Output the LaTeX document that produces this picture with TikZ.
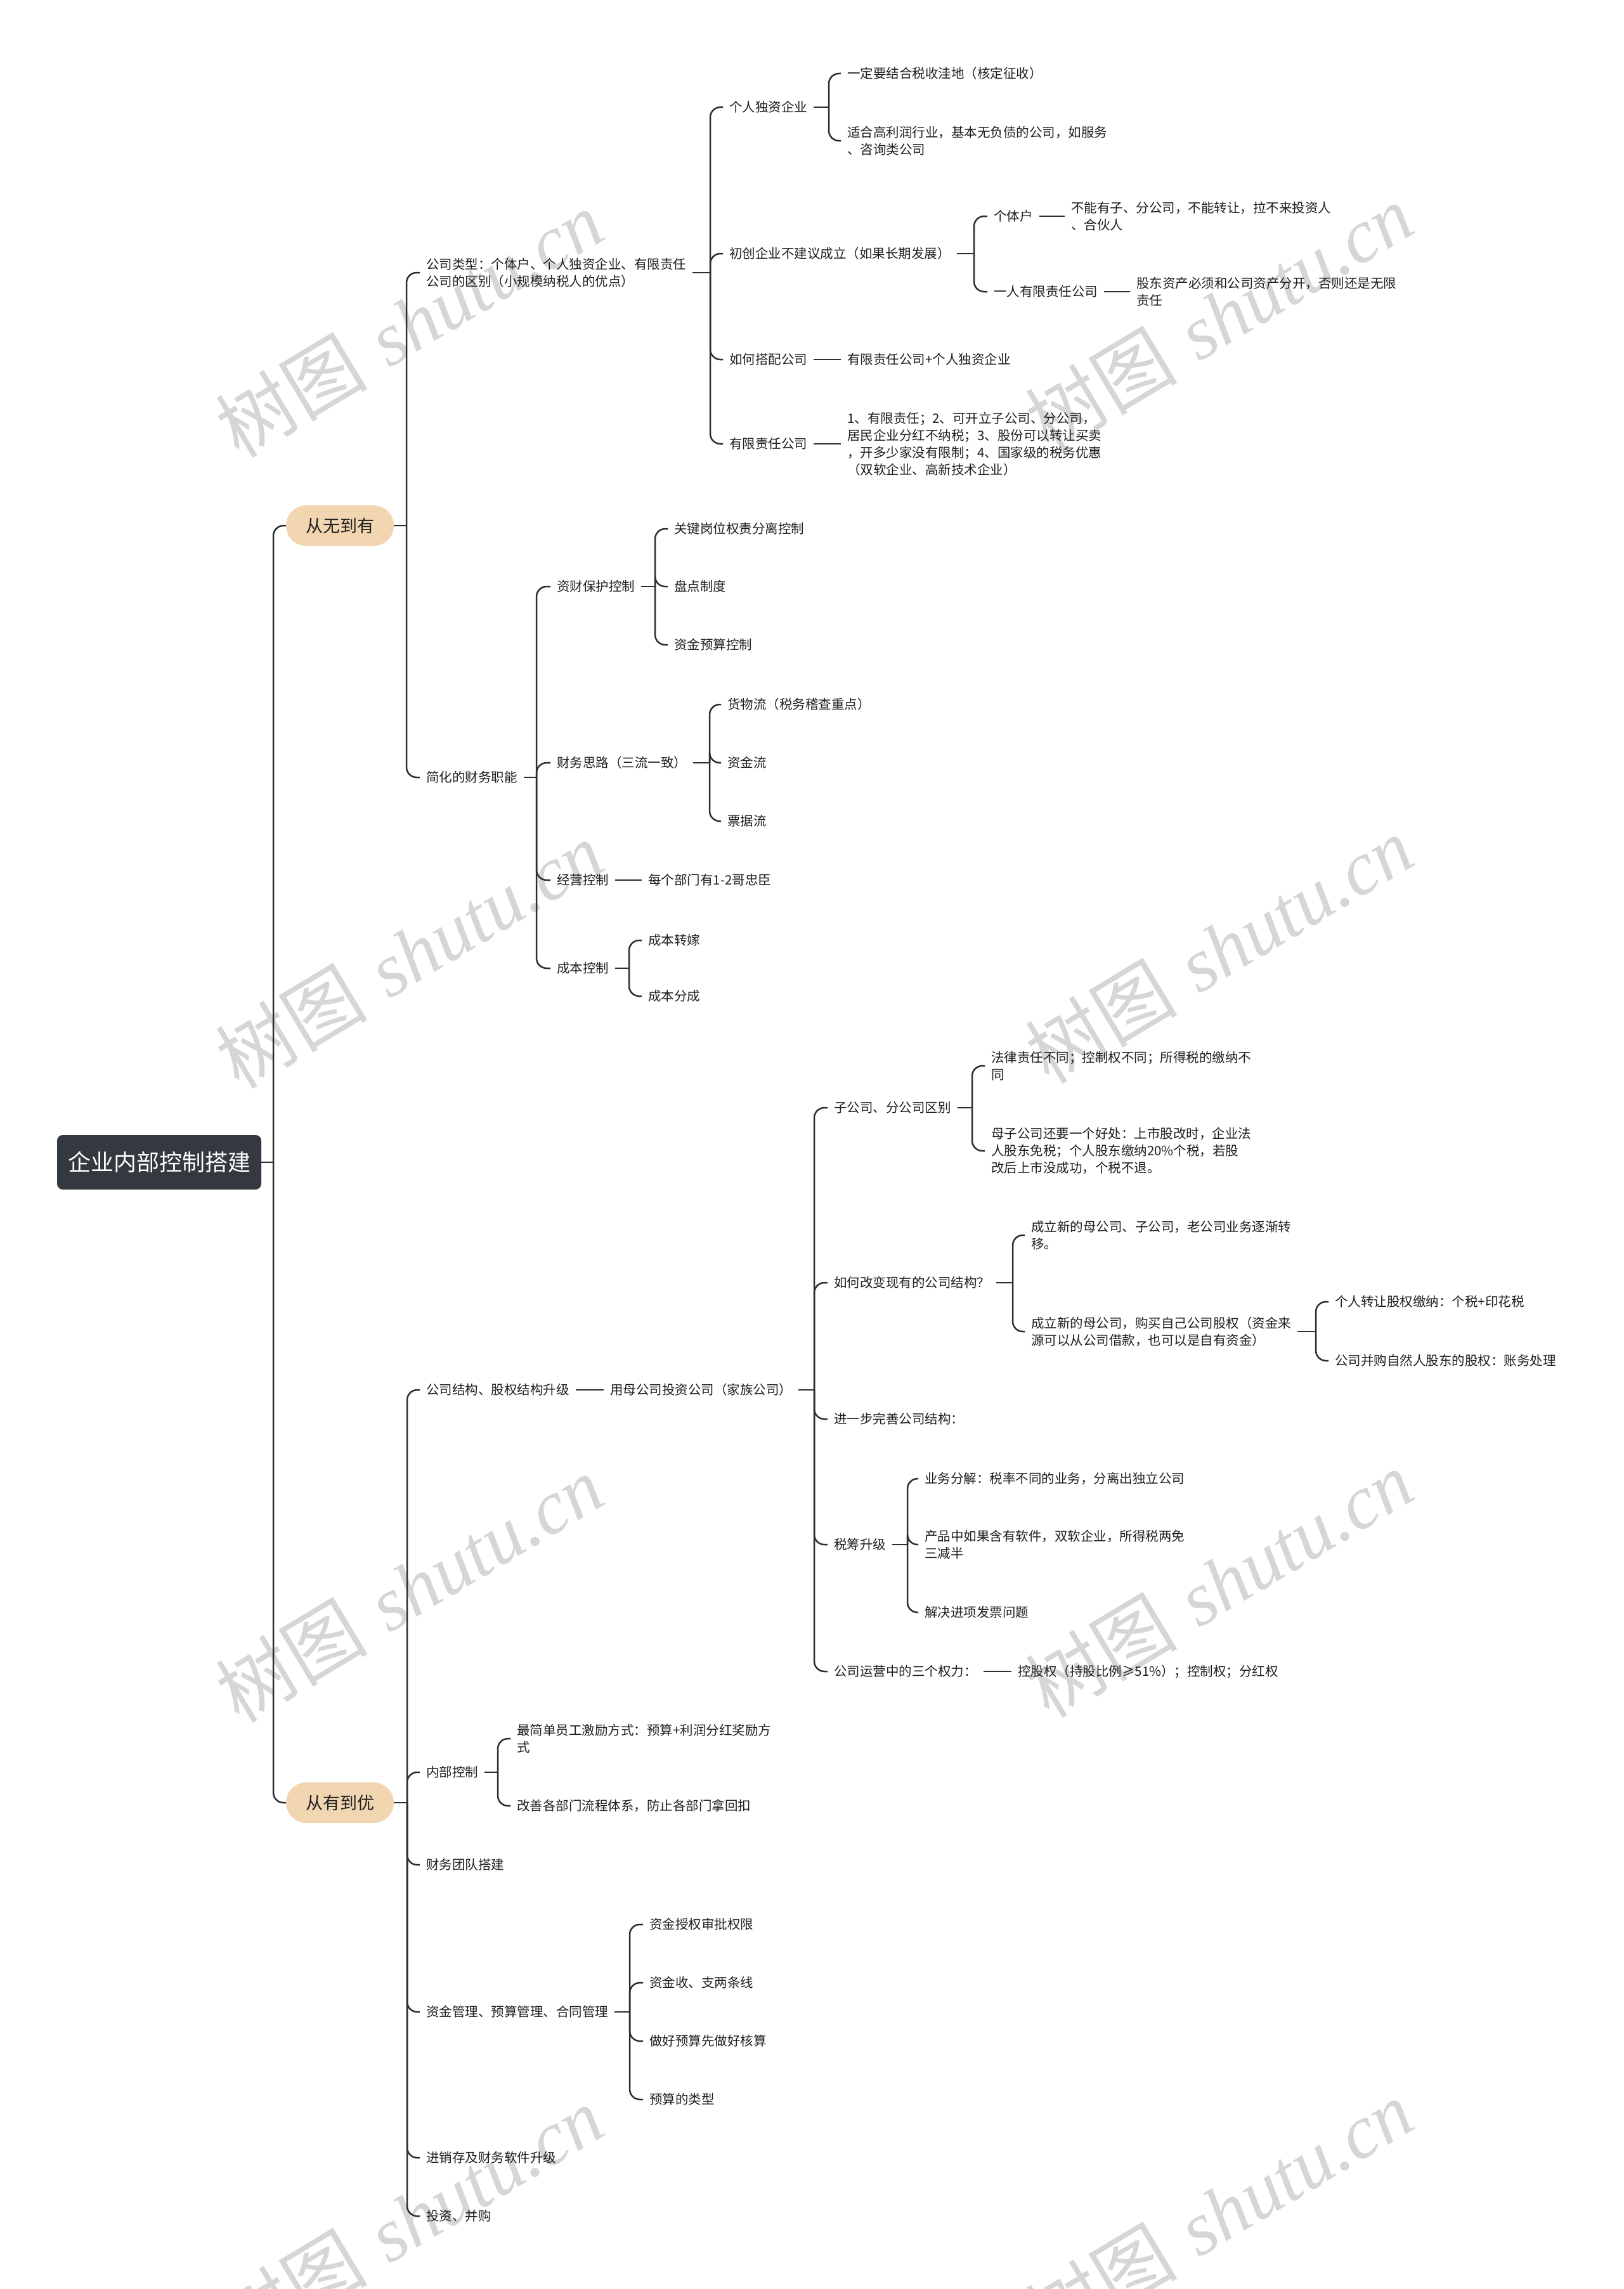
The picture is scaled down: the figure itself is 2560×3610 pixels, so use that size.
\documentclass[tikz,border=0pt]{standalone}
\usepackage{fontspec}
\setmainfont{Noto Sans CJK SC}
\newfontfamily\wmlatin{Liberation Serif}
\definecolor{lc}{RGB}{45,45,45}
\definecolor{tc}{RGB}{30,30,30}
\definecolor{rootc}{RGB}{52,57,64}
\definecolor{pillc}{RGB}{242,214,178}
\definecolor{wmc}{RGB}{214,214,214}
\newcommand\spine[3]{%
  \coordinate (sp-#1) at (#2,0);
  \draw[conn] (#1.east) -- (#1.east -| sp-#1);
  \foreach \kid in {#3} {\draw[conn] (#1.east -| sp-#1) |- (\kid.west);}
}
\newcommand\link[2]{\draw[conn] (#1.east) -- (#2.west);}
\begin{document}
\begin{tikzpicture}[x=1pt,y=-1pt,
  conn/.style={draw=lc, line width=2.5pt, rounded corners=16pt},
  tx/.style={anchor=west, xshift=-10pt, inner xsep=10pt, inner ysep=3pt, font=\fontsize{20.5}{27}\selectfont, align=left, text=tc},
  rootbox/.style={fill=rootc, text=white, rounded corners=9pt, minimum width=322pt, minimum height=86pt, font=\fontsize{36}{40}\selectfont, inner sep=0pt},
  pill/.style={fill=pillc, text=tc, rounded corners=32pt, minimum width=170pt, minimum height=64pt, font=\fontsize{27}{30}\selectfont, inner sep=0pt},
  wm/.style={text=wmc, font=\fontsize{120}{130}\selectfont, rotate=31, inner sep=0pt}
]
\path[use as bounding box] (0,0) rectangle (2560,3610);
\fill[white] (0,0) rectangle (2560,3610);

% watermarks
\node[wm] (w1) at (645,510) {树图\hspace{0.3em}{\wmlatin\itshape shutu.cn}};
\node[wm] (w2) at (1922,500) {树图\hspace{0.3em}{\wmlatin\itshape shutu.cn}};
\node[wm] (w3) at (645,1505) {树图\hspace{0.3em}{\wmlatin\itshape shutu.cn}};
\node[wm] (w4) at (1922,1497) {树图\hspace{0.3em}{\wmlatin\itshape shutu.cn}};
\node[wm] (w5) at (645,2505) {树图\hspace{0.3em}{\wmlatin\itshape shutu.cn}};
\node[wm] (w6) at (1922,2497) {树图\hspace{0.3em}{\wmlatin\itshape shutu.cn}};
\node[wm] (w7) at (645,3500) {树图\hspace{0.3em}{\wmlatin\itshape shutu.cn}};
\node[wm] (w8) at (1922,3490) {树图\hspace{0.3em}{\wmlatin\itshape shutu.cn}};

% root and level 1
\node[rootbox] (root) at (251,1833) {企业内部控制搭建};
\node[pill] (A) at (536,829) {从无到有};
\node[pill] (B) at (536,2843) {从有到优};

% branch A
\node[tx] (a1) at (672,430) {公司类型：个体户、个人独资企业、有限责任\\公司的区别（小规模纳税人的优点）};
\node[tx] (a2) at (672,1226) {简化的财务职能};
\node[tx] (a11) at (1150,169) {个人独资企业};
\node[tx] (a111) at (1336,116) {一定要结合税收洼地（核定征收）};
\node[tx] (a112) at (1336,222) {适合高利润行业，基本无负债的公司，如服务\\、咨询类公司};
\node[tx] (a12) at (1150,400) {初创企业不建议成立（如果长期发展）};
\node[tx] (a121) at (1567,341) {个体户};
\node[tx] (a1211) at (1689,341) {不能有子、分公司，不能转让，拉不来投资人\\、合伙人};
\node[tx] (a122) at (1567,460) {一人有限责任公司};
\node[tx] (a1221) at (1792,460) {股东资产必须和公司资产分开，否则还是无限\\责任};
\node[tx] (a13) at (1150,567) {如何搭配公司};
\node[tx] (a131) at (1336,567) {有限责任公司+个人独资企业};
\node[tx] (a14) at (1150,700) {有限责任公司};
\node[tx] (a141) at (1336,700) {1、有限责任；2、可开立子公司、分公司，\\居民企业分红不纳税；3、股份可以转让买卖\\，开多少家没有限制；4、国家级的税务优惠\\（双软企业、高新技术企业）};

\node[tx] (a21) at (878,925) {资财保护控制};
\node[tx] (a211) at (1063,834) {关键岗位权责分离控制};
\node[tx] (a212) at (1063,925) {盘点制度};
\node[tx] (a213) at (1063,1017) {资金预算控制};
\node[tx] (a22) at (878,1203) {财务思路（三流一致）};
\node[tx] (a221) at (1147,1111) {货物流（税务稽查重点）};
\node[tx] (a222) at (1147,1203) {资金流};
\node[tx] (a223) at (1147,1295) {票据流};
\node[tx] (a23) at (878,1388) {经营控制};
\node[tx] (a231) at (1022,1388) {每个部门有1-2哥忠臣};
\node[tx] (a24) at (878,1527) {成本控制};
\node[tx] (a241) at (1022,1483) {成本转嫁};
\node[tx] (a242) at (1022,1571) {成本分成};

% branch B
\node[tx] (b1) at (672,2192) {公司结构、股权结构升级};
\node[tx] (b11) at (962,2192) {用母公司投资公司（家族公司）};
\node[tx] (b111) at (1315,1747) {子公司、分公司区别};
\node[tx] (b1111) at (1563,1681) {法律责任不同；控制权不同；所得税的缴纳不\\同};
\node[tx] (b1112) at (1563,1815) {母子公司还要一个好处：上市股改时，企业法\\人股东免税；个人股东缴纳20\%个税，若股\\改后上市没成功，个税不退。};
\node[tx] (b112) at (1315,2023) {如何改变现有的公司结构？};
\node[tx] (b1121) at (1626,1948) {成立新的母公司、子公司，老公司业务逐渐转\\移。};
\node[tx] (b1122) at (1626,2100) {成立新的母公司，购买自己公司股权（资金来\\源可以从公司借款，也可以是自有资金）};
\node[tx] (b11221) at (2105,2053) {个人转让股权缴纳：个税+印花税};
\node[tx] (b11222) at (2105,2146) {公司并购自然人股东的股权：账务处理};
\node[tx] (b113) at (1315,2238) {进一步完善公司结构：};
\node[tx] (b114) at (1315,2436) {税筹升级};
\node[tx] (b1141) at (1458,2332) {业务分解：税率不同的业务，分离出独立公司};
\node[tx] (b1142) at (1458,2436) {产品中如果含有软件，双软企业，所得税两免\\三减半};
\node[tx] (b1143) at (1458,2543) {解决进项发票问题};
\node[tx] (b115) at (1315,2636) {公司运营中的三个权力：};
\node[tx] (b1151) at (1605,2636) {控股权（持股比例≥51\%）；控制权；分红权};
\node[tx] (b2) at (672,2795) {内部控制};
\node[tx] (b21) at (815,2742) {最简单员工激励方式：预算+利润分红奖励方\\式};
\node[tx] (b22) at (815,2848) {改善各部门流程体系，防止各部门拿回扣};
\node[tx] (b3) at (672,2941) {财务团队搭建};
\node[tx] (b4) at (672,3173) {资金管理、预算管理、合同管理};
\node[tx] (b41) at (1024,3035) {资金授权审批权限};
\node[tx] (b42) at (1024,3127) {资金收、支两条线};
\node[tx] (b43) at (1024,3219) {做好预算先做好核算};
\node[tx] (b44) at (1024,3311) {预算的类型};
\node[tx] (b5) at (672,3403) {进销存及财务软件升级};
\node[tx] (b6) at (672,3495) {投资、并购};

% connectors
\spine{root}{431}{A,B}
\spine{A}{641}{a1,a2}
\spine{B}{642}{b1,b2,b3,b4,b5,b6}
\spine{a1}{1120}{a11,a12,a13,a14}
\spine{a11}{1307}{a111,a112}
\spine{a12}{1536}{a121,a122}
\link{a121}{a1211}
\link{a122}{a1221}
\link{a13}{a131}
\link{a14}{a141}
\spine{a2}{846}{a21,a22,a23,a24}
\spine{a21}{1033}{a211,a212,a213}
\spine{a22}{1119}{a221,a222,a223}
\link{a23}{a231}
\spine{a24}{992}{a241,a242}
\link{b1}{b11}
\spine{b11}{1284}{b111,b112,b113,b114,b115}
\spine{b111}{1533}{b1111,b1112}
\spine{b112}{1597}{b1121,b1122}
\spine{b1122}{2075}{b11221,b11222}
\spine{b114}{1431}{b1141,b1142,b1143}
\link{b115}{b1151}
\spine{b2}{785}{b21,b22}
\spine{b4}{993}{b41,b42,b43,b44}
\end{tikzpicture}
\end{document}
